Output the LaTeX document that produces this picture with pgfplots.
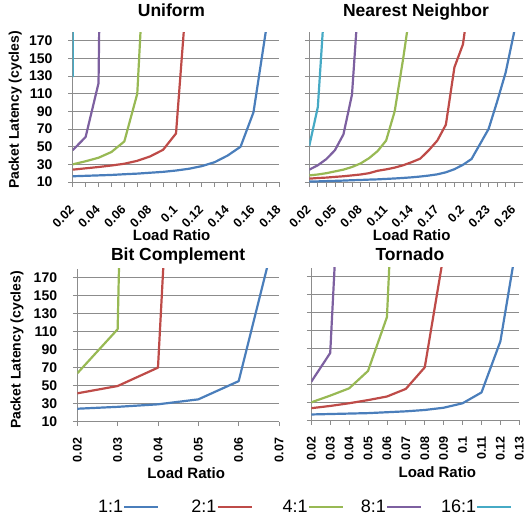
\documentclass[border=0pt]{standalone}
\usepackage{fontspec}
\setmainfont{Liberation Sans}
\usepackage{pgfplots}
\pgfplotsset{compat=1.18}
\definecolor{c1}{HTML}{4A7EBB}
\definecolor{c2}{HTML}{BE4B48}
\definecolor{c3}{HTML}{98B954}
\definecolor{c4}{HTML}{7D60A0}
\definecolor{c5}{HTML}{46AAC5}
\definecolor{gridc}{HTML}{8C8C8C}
\pgfplotsset{
 panel/.style={
  set layers=standard,
  scale only axis, anchor=south west,
  axis x line=bottom, axis y line=left,
  axis line style={-, draw=gridc, line width=0.8pt},
  tick style={draw=gridc, line width=0.8pt},
  tick align=outside, major tick length=4.5pt, minor tick length=4.5pt,
  ymin=10, ymax=180, ytick={10,30,...,170},
  ymajorgrids, grid style={draw=gridc, line width=0.8pt},
  xmin=0.02, scaled x ticks=false,
  ticklabel style={inner sep=0pt},
  /pgf/number format/assume math mode=true,
  xticklabel style={font=\fontsize{12.5}{12.5}\selectfont\bfseries, /pgf/number format/fixed, /pgf/number format/precision=2},
  yticklabel style={font=\fontsize{14}{14}\selectfont\bfseries, anchor=east, xshift=-15.5pt},
  title style={font=\fontsize{17.5}{18}\selectfont\bfseries, anchor=base, inner sep=0pt},
  xlabel style={font=\fontsize{15}{16}\selectfont\bfseries, anchor=base, inner sep=0pt},
  ylabel style={font=\fontsize{14}{14}\selectfont\bfseries, anchor=base, inner sep=0pt},
 },
 toprow/.style={xticklabel style={xshift=-4pt, yshift=-18pt, rotate=45, anchor=north east}},
 botrow/.style={xticklabel style={yshift=-11.3pt, rotate=90, anchor=east}},
 s1/.style={c1, line width=2.2pt, line join=round},
 s2/.style={c2, line width=2.2pt, line join=round},
 s3/.style={c3, line width=2.2pt, line join=round},
 s4/.style={c4, line width=2.2pt, line join=round},
 s5/.style={c5, line width=2.2pt, line join=round},
}
\begin{document}
\begin{tikzpicture}
% ---------------- Uniform ----------------
\begin{axis}[panel, toprow,
  at={(72.7pt,341pt)}, width=206.6pt, height=150pt,
  xmax=0.18, xtick={0.02,0.04,0.06,0.08,0.1,0.12,0.14,0.16,0.18}, minor x tick num=1,
  title={Uniform}, title style={at={(axis description cs:0.478,1.065)}},
  xlabel={Load Ratio}, xlabel style={at={(axis description cs:0.479,-0.393)}},
  ylabel={Packet Latency (cycles)}, ylabel style={at={(axis description cs:-0.26,0.48)}},
  legend columns=5, legend plot pos=right,
  legend image code/.code={\draw[#1] (0pt,0pt) -- (34pt,0pt);},
  legend style={draw=none, fill=none, inner sep=0pt, anchor=west,
    at={(axis description cs:0.1225,-2.1667)},
    nodes={inner sep=0pt, font=\fontsize{18}{18}\selectfont},
    /tikz/column 2/.style={column sep=32pt},
    /tikz/column 4/.style={column sep=30pt},
    /tikz/column 6/.style={column sep=17pt},
    /tikz/column 8/.style={column sep=19pt}},
]
\addplot[s1] coordinates {(0.02,16.5) (0.03,17) (0.04,17.5) (0.05,18) (0.06,18.8) (0.07,19.5) (0.08,20.5) (0.09,21.5) (0.10,23) (0.11,25) (0.12,28) (0.13,32.5) (0.14,40) (0.15,50) (0.16,89) (0.17,185)};
\addplot[s2] coordinates {(0.02,24) (0.03,25.5) (0.04,27) (0.05,28.7) (0.06,30.7) (0.07,34) (0.08,39) (0.09,46.5) (0.10,65) (0.11,257)};
\addplot[s3] coordinates {(0.02,30) (0.03,33.5) (0.04,37.5) (0.05,44) (0.06,56) (0.07,110) (0.08,390)};
\addplot[s4] coordinates {(0.02,46) (0.03,61) (0.04,122) (0.05,1300)};
\addplot[s5] coordinates {(0.02,129) (0.03,5000)};
\legend{1:1,2:1,4:1,8:1,16:1}
\end{axis}
% ---------------- Nearest Neighbor ----------------
\begin{axis}[panel, toprow,
  at={(309.3pt,341pt)}, width=213.4pt, height=150pt,
  xmax=0.27, xtick={0.02,0.05,0.08,0.11,0.14,0.17,0.2,0.23,0.26}, minor x tick num=2,
  yticklabels={},
  title={Nearest Neighbor}, title style={at={(axis description cs:0.5,1.065)}},
  xlabel={Load Ratio}, xlabel style={at={(axis description cs:0.48,-0.393)}},
]
\addplot[s1] coordinates {(0.02,10.5) (0.03,10.7) (0.04,11) (0.05,11.3) (0.06,11.6) (0.07,12) (0.08,12.3) (0.09,12.7) (0.10,13) (0.11,13.5) (0.12,14) (0.13,14.6) (0.14,15.3) (0.15,16.2) (0.16,17.3) (0.17,18.7) (0.18,21) (0.19,24.5) (0.20,29.5) (0.21,36) (0.22,53) (0.23,70) (0.24,101) (0.25,134) (0.26,180) (0.27,260)};
\addplot[s2] coordinates {(0.02,13.8) (0.03,14.5) (0.04,15) (0.05,15.8) (0.06,16.5) (0.07,17.5) (0.08,18.5) (0.09,20) (0.10,22.7) (0.11,24.3) (0.12,26.3) (0.13,29) (0.14,32.5) (0.15,36.5) (0.16,46) (0.17,57) (0.18,75) (0.19,140) (0.20,166) (0.21,236)};
\addplot[s3] coordinates {(0.02,17.5) (0.03,18.5) (0.04,20) (0.05,22) (0.06,24) (0.07,27) (0.08,31) (0.09,37) (0.10,45) (0.11,57) (0.12,90) (0.13,150) (0.14,217)};
\addplot[s4] coordinates {(0.02,24) (0.03,29) (0.04,36) (0.05,46) (0.06,64) (0.07,109) (0.08,251)};
\addplot[s5] coordinates {(0.02,51) (0.03,95) (0.04,244)};
\end{axis}
% ---------------- Bit Complement ----------------
\begin{axis}[panel, botrow,
  at={(77.3pt,101.3pt)}, width=201.7pt, height=153.2pt,
  xmax=0.07, xtick={0.02,0.03,0.04,0.05,0.06,0.07},
  title={Bit Complement}, title style={at={(axis description cs:0.5,1.016)}},
  xlabel={Load Ratio}, xlabel style={at={(axis description cs:0.54,-0.369)}},
  ylabel={Packet Latency (cycles)}, ylabel style={at={(axis description cs:-0.2816,0.468)}},
]
\addplot[s1] coordinates {(0.02,24.4) (0.03,26.5) (0.04,29.3) (0.05,34.8) (0.06,55) (0.07,234)};
\addplot[s2] coordinates {(0.02,41.5) (0.03,49.6) (0.04,70) (0.05,916)};
\addplot[s3] coordinates {(0.02,63.7) (0.03,112.6) (0.04,2150)};
\end{axis}
% ---------------- Tornado ----------------
\begin{axis}[panel, botrow,
  at={(311.3pt,102.7pt)}, width=208pt, height=152.6pt,
  xmax=0.13, xtick={0.02,0.03,0.04,0.05,0.06,0.07,0.08,0.09,0.1,0.11,0.12,0.13},
  yticklabels={},
  title={Tornado}, title style={at={(axis description cs:0.474,1.011)}},
  xlabel={Load Ratio}, xlabel style={at={(axis description cs:0.606,-0.3735)}},
]
\addplot[s1] coordinates {(0.02,16.5) (0.03,17) (0.04,17.5) (0.05,18) (0.06,19) (0.07,20) (0.08,21.5) (0.09,24) (0.10,29) (0.11,41) (0.12,98) (0.13,224)};
\addplot[s2] coordinates {(0.02,23.5) (0.03,26) (0.04,29) (0.05,32.5) (0.06,36.5) (0.07,45) (0.08,69) (0.09,195)};
\addplot[s3] coordinates {(0.02,30) (0.03,37.5) (0.04,45.6) (0.05,65) (0.06,125) (0.07,583)};
\addplot[s4] coordinates {(0.02,53) (0.03,85) (0.04,498)};
\end{axis}
\pgfresetboundingbox
\path[use as bounding box] (0,0) rectangle (526pt,523pt);
\end{tikzpicture}
\end{document}
